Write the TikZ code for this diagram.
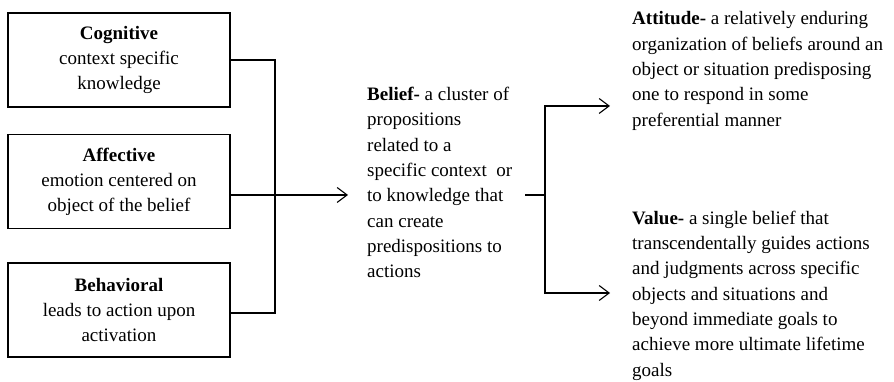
\documentclass[tikz,border=0pt]{standalone}
\usepackage{fontspec}
\setmainfont{Liberation Serif}
\usetikzlibrary{arrows.meta}

\tikzset{
	compbox/.style={draw, align=center, line width=1.1pt, minimum width=222pt, minimum height=94pt, inner sep=0pt, font=\fontsize{19}{25}\selectfont},
	desc/.style={align=left, inner sep=0pt, anchor=west, font=\fontsize{19}{25.3}\selectfont},
	link/.style={line width=1.1pt},
	flow/.style={line width=1.1pt, -{Straight Barb[length=10pt, width=15pt, line width=1.1pt]}}
}

\begin{document}
\begin{tikzpicture}[x=1pt, y=1pt]
	\useasboundingbox (0,0) rectangle (894,382);
	\node [compbox] (cog) at (119,322) {\textbf{Cognitive} \\ context specific \\ knowledge};
	\node [compbox] (aff) at (119,200.5) {\textbf{Affective} \\ emotion centered on \\ object of the belief};
	\node [compbox] (beh) at (119,72) {\textbf{Behavioral} \\ leads to action upon \\ activation};
	\node [desc] (bel) at (367,199.5) {\textbf{Belief-} a cluster of \\ propositions \\ related to a \\ specific context\ \ or \\ to knowledge that \\ can create \\ predispositions to \\ actions};
	\node [desc] (att) at (632,311) {\textbf{Attitude-} a relatively enduring \\ organization of beliefs around an \\ object or situation predisposing \\ one to respond in some \\ preferential manner};
	\node [desc] (val) at (632,86.5) {\textbf{Value-} a single belief that \\ transcendentally guides actions \\ and judgments across specific \\ objects and situations and \\ beyond immediate goals to \\ achieve more ultimate lifetime \\ goals};
	\coordinate (join) at (275,187);
	\coordinate (split) at (545,187);
	\draw [link] (cog.east |- 0,322) -| (join);
	\draw [link] (beh.east |- 0,69) -| (join);
	\draw [flow] (aff.east |- join) -- ([xshift=-19pt]bel.west |- join);
	\draw [link] ([xshift=158pt]bel.west |- split) -- (split);
	\draw [flow] (split) |- ([xshift=-22pt]att.west |- 0,276);
	\draw [flow] (split) |- ([xshift=-22pt]val.west |- 0,89);
\end{tikzpicture}
\end{document}
